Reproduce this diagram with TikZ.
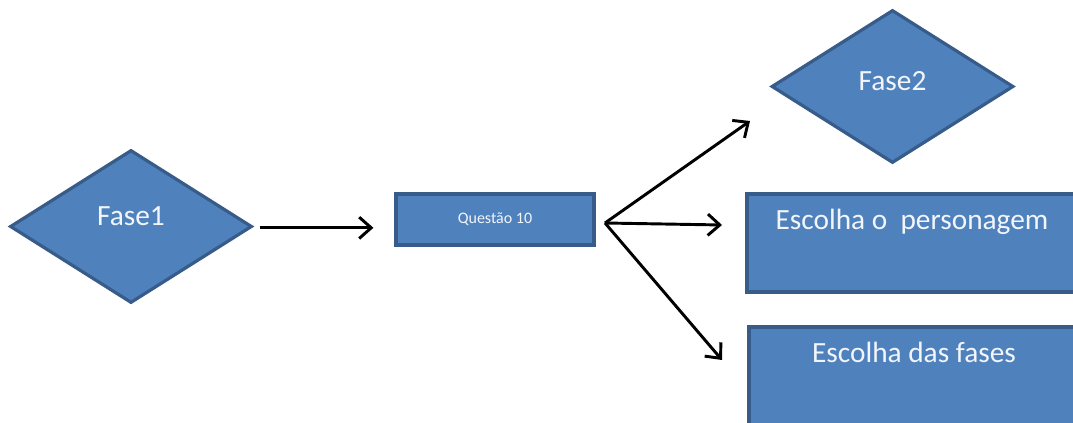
\documentclass[tikz,border=0pt]{standalone}
\usepackage{fontspec}
\setmainfont{Carlito}
\usepackage{tikz}
\usetikzlibrary{shapes.geometric,arrows.meta,calc}
\definecolor{shapeFill}{HTML}{4F81BD}
\definecolor{shapeBorder}{HTML}{385C89}
\definecolor{shapeText}{HTML}{F2F5FA}
\newcommand{\diamondWidth}{181.5pt}
\newcommand{\diamondHeight}{114.75pt}
\newcommand{\bigText}{\fontsize{22}{27}\selectfont}
\newcommand{\smallText}{\fontsize{12}{14}\selectfont}
\newcommand{\forkTargets}{tipFase2, tipPersonagem, tipFases}

\begin{document}
\begin{tikzpicture}[x=.75pt,y=-.75pt,
	shapeBox/.style={draw=shapeBorder,fill=shapeFill,line width=2.4pt,text=shapeText},
	phaseDiamond/.style={shapeBox,diamond,minimum width=\diamondWidth,minimum height=\diamondHeight,inner sep=0pt},
	phaseLabel/.style={text=shapeText,font=\bigText},
	choiceBox/.style={shapeBox,minimum width=247.5pt,minimum height=73.5pt,align=center,font=\bigText},
	flowArrow/.style={line width=2.2pt,-{Straight Barb[length=9pt,width=16pt]}}]

		\useasboundingbox (0,0) rectangle (1073,423);

		\node[phaseDiamond, label={[phaseLabel,yshift=7.5pt]center:Fase1}] (fase1) at (131,226.5) {};
		\node[phaseDiamond, label={[phaseLabel,yshift=4pt]center:Fase2}] (fase2) at (892.5,86.5) {};
		\node[shapeBox, minimum width=148.5pt, minimum height=38.25pt, font=\smallText] (questao) at (495,219.5) {Questão 10};
		\node[choiceBox] (personagem) at (912,243) {Escolha o\ \ personagem\\ \strut};
		\node[choiceBox] (fases) at (914,376) {Escolha das fases\\ \strut};

		\coordinate (fork) at (605,223);
		\coordinate (tipFase2) at (750,121);
		\coordinate (tipPersonagem) at (722,225);
		\coordinate (tipFases) at (722,360);

		\draw[flowArrow] ([xshift=4.5pt,yshift=-1pt]fase1.east) -- ([xshift=-15.75pt,yshift=-1pt]fase1.east -| questao.west);
		\foreach \target in \forkTargets
		{
			\draw[flowArrow] (fork) -- (\target);
		}
	\end{tikzpicture}
\end{document}
